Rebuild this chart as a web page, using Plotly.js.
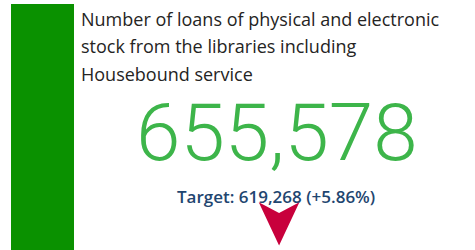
<!DOCTYPE html>
<html>
<head>
<meta charset="utf-8">
<script src="https://cdn.plot.ly/plotly-3.0.1.min.js"></script>
<style>html,body{margin:0;padding:0;background:#fff;}#chart{width:475px;height:250px;}</style>
</head>
<body>
<div id="chart"></div>
<script>
// ---- data ----
const titleLines = [
  "Number of loans of physical and electronic",
  "stock from the libraries including",
  "Housebound service"
];
const actualValue = [655578];
const targetValue = [619268];
const statusCategory = ["status"];
const statusValue = [1];

// ---- derived text ----
const W = 475, H = 250;
const px = x => x / W;
const py = y => 1 - y / H;
const fmtInt = v => v.toLocaleString("en-US");
const change = (actualValue[0] - targetValue[0]) / targetValue[0];
const changeText = (change >= 0 ? "+" : "") + (change * 100).toFixed(2) + "%";

const annotations = [];
titleLines.forEach((t, i) => {
  annotations.push({
    xref: "paper", yref: "paper", x: px(79), y: py(19 + i * 27.5),
    xanchor: "left", yanchor: "middle", showarrow: false, text: t,
    font: {family: "Open Sans", size: 18, color: "#252423"}
  });
});
annotations.push({
  xref: "paper", yref: "paper", x: px(277), y: py(133),
  xanchor: "center", yanchor: "middle", showarrow: false,
  text: fmtInt(actualValue[0]),
  font: {family: "Roboto", size: 80, weight: 300, color: "#3db54a"}
});
annotations.push({
  xref: "paper", yref: "paper", x: px(276), y: py(196),
  xanchor: "center", yanchor: "middle", showarrow: false,
  text: "Target: " + fmtInt(targetValue[0]) + " (" + changeText + ")",
  font: {family: "Open Sans", size: 17, weight: 600, color: "#1f4670"}
});
annotations.push({
  xref: "paper", yref: "paper", x: px(281), y: py(222),
  xanchor: "center", yanchor: "middle", showarrow: false,
  text: "\u27A4", textangle: 90,
  font: {family: "DejaVu Sans", size: 64, color: "#c8003c"}
});

const traces = [{
  type: "bar", x: statusCategory, y: statusValue, width: 1,
  marker: {color: "#0a9100", line: {width: 0}},
  hoverinfo: "skip", xaxis: "x", yaxis: "y"
}];

const layout = {
  width: W, height: H,
  margin: {l: 0, r: 0, t: 0, b: 0, pad: 0},
  paper_bgcolor: "#ffffff", plot_bgcolor: "rgba(0,0,0,0)",
  showlegend: false,
  xaxis: {domain: [px(11), px(74)], visible: false, fixedrange: true},
  yaxis: {domain: [0, py(4)], range: [0, 1], visible: false, fixedrange: true},
  bargap: 0,
  annotations: annotations
};

Plotly.newPlot("chart", traces, layout, {displayModeBar: false, staticPlot: true});
</script>
</body>
</html>
